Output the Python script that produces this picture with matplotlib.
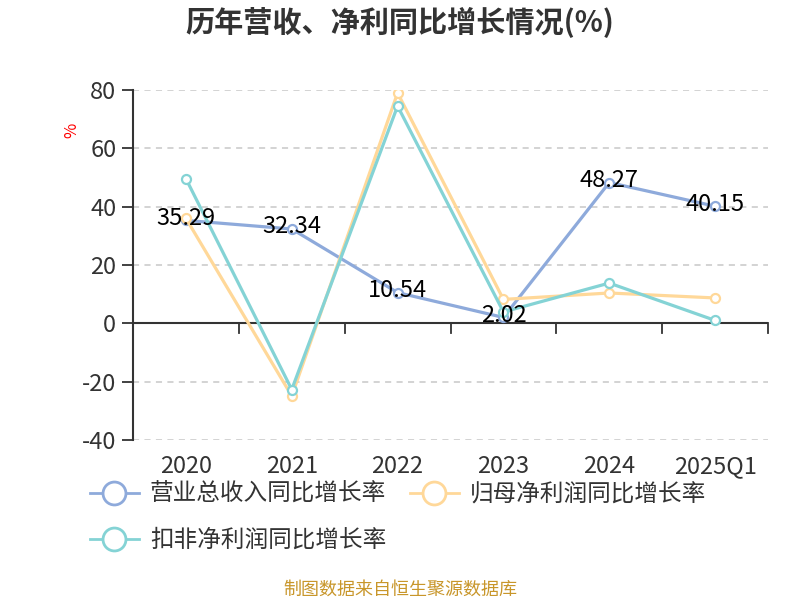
import matplotlib
matplotlib.use("Agg")
import matplotlib.pyplot as plt
from matplotlib.lines import Line2D

plt.rcParams['font.family'] = ['Noto Sans CJK SC', 'DejaVu Sans']

# data
periods = ['2020', '2021', '2022', '2023', '2024', '2025Q1']
revenue_yoy = [35.29, 32.34, 10.54, 2.02, 48.27, 40.15]
netprofit_yoy = [36.0, -24.9, 79.0, 8.2, 10.4, 8.7]
deducted_yoy = [49.6, -22.7, 74.5, 3.9, 13.8, 1.0]
series_names = ['营业总收入同比增长率', '归母净利润同比增长率', '扣非净利润同比增长率']
yticks = [-40, -20, 0, 20, 40, 60, 80]

colors = ['#8EAADB', '#FFD899', '#84D3D5']
axis_color = '#333333'

fig = plt.figure(figsize=(8, 6), dpi=100)
ax = fig.add_axes([0.16625, 0.2667, 0.79375, 0.5833])

x = list(range(len(periods)))
for vals, c, z in zip([revenue_yoy, netprofit_yoy, deducted_yoy], colors, [3, 4, 5]):
    ax.plot(x, vals, color=c, lw=2.3, marker='o', ms=6.5, mfc='white',
            mec=c, mew=1.6, zorder=z, solid_joinstyle='round')

# value labels for revenue series
for xi, v in zip(x, revenue_yoy):
    ax.annotate(f'{v:.2f}', (xi, v), xytext=(0, 1.5), textcoords='offset points',
                ha='center', va='center', fontsize=17, color='black', zorder=10)

ax.set_xlim(-0.5, len(periods) - 0.5)
ax.set_ylim(-40, 80)
ax.set_yticks(yticks)
ax.set_yticklabels([str(t) for t in yticks], fontsize=17, color=axis_color)
ax.tick_params(axis='y', length=8, width=1.3, color=axis_color, pad=4)

# grid lines (except zero, which is the x axis line)
for t in yticks:
    if t != 0:
        ax.axhline(t, color='#C8C8C8', lw=1.1, ls=(0, (4, 3.5)), zorder=1)

# x axis line sits at zero, labels at the bottom
ax.axhline(0, color=axis_color, lw=1.5, zorder=2)
for b in range(len(periods) + 1):
    ax.plot([b - 0.5, b - 0.5], [0, -3.4], color=axis_color, lw=1.3,
            zorder=2, clip_on=False)
ax.set_xticks(x)
ax.set_xticklabels(periods, fontsize=17, color=axis_color)
ax.tick_params(axis='x', length=0, pad=11)

for s in ['top', 'right', 'bottom']:
    ax.spines[s].set_visible(False)
ax.spines['left'].set_color(axis_color)
ax.spines['left'].set_linewidth(1.5)

ax.text(-0.096, 0.886, '%', transform=ax.transAxes, rotation=90, color='red',
        fontsize=12, ha='center', va='center')

fig.text(0.5, 0.963, '历年营收、净利同比增长情况(%)', ha='center', va='center',
         fontsize=21, fontweight='bold', color='#333333')

# legend, ordered so rows read: revenue, net profit / deducted
handles = [Line2D([0], [0], color=c, lw=2, marker='o', ms=16.5, mfc='white',
                  mec=c, mew=2) for c in colors]
order = [0, 2, 1]
leg = fig.legend([handles[i] for i in order], [series_names[i] for i in order],
                 loc='upper left', bbox_to_anchor=(0.1125, 0.195),
                 ncol=2, frameon=False, fontsize=17, handlelength=2.07,
                 handletextpad=0.47, columnspacing=1.0, labelspacing=0.98,
                 borderaxespad=0, borderpad=0)
for t in leg.get_texts():
    t.set_color(axis_color)

fig.text(0.5, 0.0167, '制图数据来自恒生聚源数据库', ha='center', va='center',
         fontsize=13, color='#C8962A')

fig.savefig('out.png', dpi=100)
